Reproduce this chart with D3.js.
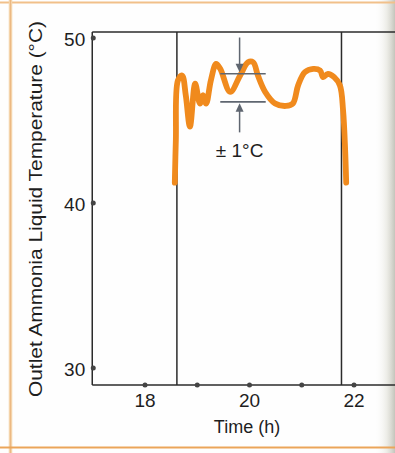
<!DOCTYPE html>
<html>
<head>
<meta charset="utf-8">
<script src="https://cdn.jsdelivr.net/npm/d3@7"></script>
<style>
  html, body { margin: 0; padding: 0; background: #ffffff; }
  svg { display: block; font-family: "Liberation Sans", Arial, Helvetica, sans-serif; }
</style>
</head>
<body>
<svg id="chart" width="395" height="453"></svg>
<script>
// ---- data ----
const timeH = [18.58, 18.60, 18.64, 18.72, 18.79, 18.87, 18.97, 19.06, 19.12, 19.18, 19.27, 19.37, 19.45,
               19.64, 19.83, 19.98, 20.08, 20.17, 20.31, 20.50, 20.71, 20.84, 20.94, 21.07, 21.23, 21.36,
               21.42, 21.51, 21.63, 21.74, 21.80, 21.84, 21.86];
const tempC = [41.2, 43.8, 47.4, 47.7, 46.5, 44.6, 47.2, 46.0, 46.5, 46.0, 47.4, 48.4, 48.1,
               46.7, 47.7, 48.5, 48.5, 47.7, 46.7, 46.0, 45.85, 46.0, 47.1, 47.9, 48.1, 48.0,
               47.6, 47.8, 47.6, 47.1, 45.6, 43.2, 41.2];
const windowTimes = [18.62, 21.77];          // vertical divider lines
const bandTemps = [47.8, 46.1];              // ±1 °C band markers
const bandTimes = [19.45, 20.32];
const arrowTime = 19.82;
const arrowTopFrom = 50.0, arrowBottomFrom = 44.25;
const yTicks = [30, 40, 50];
const xTickDots = [18, 19, 20, 21, 22];
const xTickLabels = ["18", "", "20", "", "22"];
const yLabel = "Outlet Ammonia Liquid Temperature (°C)";
const xLabel = "Time (h)";
const bandLabel = "± 1°C";

// ---- layout ----
const svg = d3.select("#chart");
const W = 395, H = 453;
const x = d3.scaleLinear().domain([17, 22]).range([92.25, 353.5]);
const y = d3.scaleLinear().domain([30, 50]).range([367.5, 37.5]);
const frameTop = 32, frameBottom = 385, frameLeft = 92.25, frameRight = 400;
const ink = "#2b2b2b";
const txt = "#1e1e1e";

// page background & decorations
svg.append("rect").attr("width", W).attr("height", H).attr("fill", "#fefefe");
const defs = svg.append("defs");
const g1 = defs.append("linearGradient").attr("id", "shade").attr("x1", 0).attr("x2", 1).attr("y1", 0).attr("y2", 0);
g1.append("stop").attr("offset", "0%").attr("stop-color", "#ffffff").attr("stop-opacity", 0);
g1.append("stop").attr("offset", "60%").attr("stop-color", "#e6e6de").attr("stop-opacity", 0.7);
g1.append("stop").attr("offset", "100%").attr("stop-color", "#c4c4bb").attr("stop-opacity", 1);
svg.append("rect").attr("x", 374).attr("y", 0).attr("width", 21).attr("height", H).attr("fill", "url(#shade)");

svg.append("line").attr("x1", 0).attr("x2", W).attr("y1", 2.5).attr("y2", 2.5)
  .attr("stroke", "#f1c08a").attr("stroke-width", 2);
svg.append("line").attr("x1", 10.5).attr("x2", 10.5).attr("y1", 0).attr("y2", 453)
  .attr("stroke", "#f4d3a9").attr("stroke-width", 3.5);
svg.append("line").attr("x1", 10.5).attr("x2", 10.5).attr("y1", 0).attr("y2", 453)
  .attr("stroke", "#eab37a").attr("stroke-width", 0.8);
svg.append("line").attr("x1", 0).attr("x2", W).attr("y1", 447.5).attr("y2", 447.5)
  .attr("stroke", "#eba55a").attr("stroke-width", 2);

// frame
svg.append("line").attr("x1", frameLeft).attr("x2", frameRight).attr("y1", frameTop).attr("y2", frameTop)
  .attr("stroke", ink).attr("stroke-width", 1.5);
svg.append("line").attr("x1", frameLeft).attr("x2", frameLeft).attr("y1", frameTop).attr("y2", frameBottom)
  .attr("stroke", ink).attr("stroke-width", 1.5);
svg.selectAll(".divider").data(windowTimes).join("line").attr("class", "divider")
  .attr("x1", d => x(d)).attr("x2", d => x(d)).attr("y1", frameTop).attr("y2", frameBottom)
  .attr("stroke", ink).attr("stroke-width", 1.5);
svg.append("line").attr("x1", frameLeft).attr("x2", frameRight).attr("y1", frameBottom).attr("y2", frameBottom)
  .attr("stroke", ink).attr("stroke-width", 1.5);

// axes
const yAxis = svg.append("g").attr("transform", `translate(${frameLeft},0)`)
  .call(d3.axisLeft(y).tickValues(yTicks).tickSize(0).tickPadding(7).tickFormat(d3.format("d")));
yAxis.select(".domain").remove();
yAxis.attr("font-size", null).attr("font-family", null);
yAxis.selectAll("text").style("font-size", "19px").attr("fill", txt).attr("dy", "0.42em");
yAxis.selectAll(".tick").append("circle").attr("r", 2.5).attr("cx", 1).attr("fill", "#444");

const xAxis = svg.append("g").attr("transform", `translate(0,${frameBottom})`)
  .call(d3.axisBottom(x).tickValues(xTickDots).tickSize(0).tickPadding(9)
    .tickFormat((d, i) => xTickLabels[i]));
xAxis.select(".domain").remove();
xAxis.attr("font-size", null).attr("font-family", null);
xAxis.selectAll("text").style("font-size", "19px").attr("fill", txt);
xAxis.selectAll(".tick").append("circle").attr("r", 2.5).attr("fill", "#444");

// axis titles
svg.append("text").attr("transform", `translate(41.5,209) rotate(-90)`)
  .attr("text-anchor", "middle").style("font-size", "19px").attr("fill", txt)
  .attr("textLength", 376).attr("lengthAdjust", "spacingAndGlyphs").text(yLabel);
svg.append("text").attr("x", 247).attr("y", 433).attr("text-anchor", "middle")
  .style("font-size", "18px").attr("fill", txt).text(xLabel);

// temperature curve
const line = d3.line().x((d, i) => x(timeH[i])).y(d => y(d)).curve(d3.curveCatmullRom.alpha(0.5));
svg.append("path").datum(tempC).attr("d", line).attr("fill", "none")
  .attr("stroke", "#f08a1d").attr("stroke-width", 5.8).attr("stroke-linejoin", "round").attr("stroke-linecap", "round");

// ±1 °C annotation
const annColor = "#5f6670";
svg.selectAll(".band").data(bandTemps).join("line").attr("class", "band")
  .attr("x1", x(bandTimes[0])).attr("x2", x(bandTimes[1]))
  .attr("y1", d => y(d)).attr("y2", d => y(d))
  .attr("stroke", annColor).attr("stroke-width", 1.6);

const ax = x(arrowTime);
function arrow(fromT, toT) {
  const y0 = y(fromT), y1 = y(toT);
  const dir = Math.sign(y1 - y0);
  svg.append("line").attr("x1", ax).attr("x2", ax).attr("y1", y0).attr("y2", y1 - dir * 6)
    .attr("stroke", annColor).attr("stroke-width", 1.5);
  svg.append("path")
    .attr("d", `M${ax - 4},${y1 - dir * 10} L${ax + 4},${y1 - dir * 10} L${ax},${y1 - dir * 1.5} Z`)
    .attr("fill", annColor);
}
arrow(arrowTopFrom, bandTemps[0]);
arrow(arrowBottomFrom, bandTemps[1]);

svg.append("text").attr("x", ax).attr("y", 157).attr("text-anchor", "middle")
  .style("font-size", "19px").attr("fill", txt).text(bandLabel);
</script>
</body>
</html>
